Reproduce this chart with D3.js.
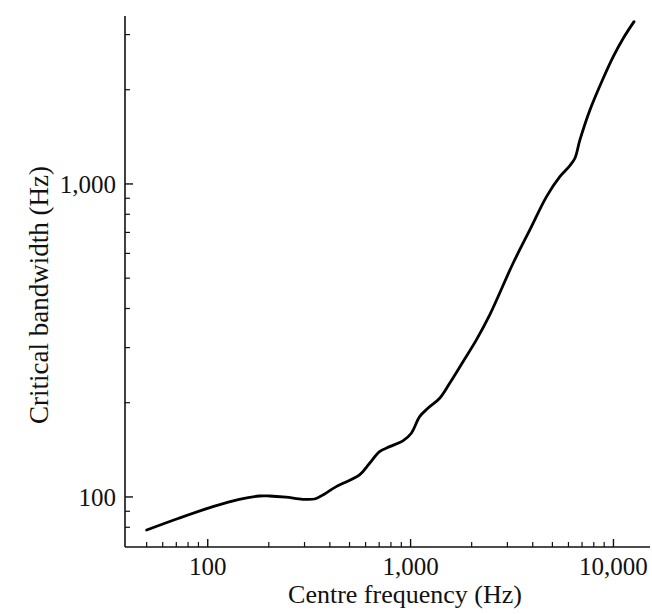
<!DOCTYPE html>
<html>
<head>
<meta charset="utf-8">
<script src="https://cdn.jsdelivr.net/npm/d3@7/dist/d3.min.js"></script>
<style>
  html, body { margin: 0; padding: 0; background: #fff; }
  svg { display: block; }
  text { font-family: "Liberation Serif", "DejaVu Serif", serif; fill: #111; }
</style>
</head>
<body>
<svg id="chart" width="652" height="614"></svg>
<script>
// Centre frequency (Hz)
const freq = [50, 72, 106, 143, 180, 201, 243, 294, 336, 362, 430, 560, 628, 703, 788, 916,
              1008, 1108, 1217, 1391, 1558, 1813, 2110, 2455, 3200, 3870, 4678, 5442, 6098,
              6455, 6834, 7656, 8905, 9977, 11180, 12630];
// Critical bandwidth (Hz)
const bandwidth = [78.4, 85.5, 93.1, 98.3, 100.7, 100.7, 99.8, 98.3, 98.5, 100.7, 107.9, 117.6,
                   128.1, 139.5, 144.8, 151, 159.8, 180.5, 192, 206.7, 230.8, 270.5, 317.5, 381.5,
                   558, 713, 911, 1055, 1144, 1208, 1382, 1723, 2176, 2551, 2921, 3300];

const xMajor = [100, 1000, 10000];
const xMinor = [50, 60, 70, 80, 90, 200, 300, 400, 500, 600, 700, 800, 900,
                2000, 3000, 4000, 5000, 6000, 7000, 8000, 9000];
const yMajor = [100, 1000];
const yMinor = [80, 90, 200, 300, 400, 500, 600, 700, 800, 900, 2000, 3000];

const xTitle = "Centre frequency (Hz)";
const yTitle = "Critical bandwidth (Hz)";

const svg = d3.select("#chart");
const mLeft = 125, mRight = 650, mTop = 16, mBottom = 547;

const x = d3.scaleLog().domain([39.1, 15140]).range([mLeft, mRight]);
const y = d3.scaleLog().domain([69.2, 3440]).range([mBottom, mTop]);
const fmt = d3.format(",");

// X axis
const gx = svg.append("g").attr("transform", `translate(0,${mBottom})`);
gx.append("line").attr("x1", mLeft).attr("x2", mRight).attr("y1", 0).attr("y2", 0)
  .attr("stroke", "#111").attr("stroke-width", 1.6);
gx.selectAll("line.minor").data(xMinor).join("line").attr("class", "minor")
  .attr("x1", d => x(d)).attr("x2", d => x(d)).attr("y1", 0).attr("y2", -5)
  .attr("stroke", "#111").attr("stroke-width", 1.2);
gx.selectAll("line.major").data(xMajor).join("line").attr("class", "major")
  .attr("x1", d => x(d)).attr("x2", d => x(d)).attr("y1", 0).attr("y2", -8)
  .attr("stroke", "#111").attr("stroke-width", 1.4);
gx.selectAll("text.lab").data(xMajor).join("text").attr("class", "lab")
  .attr("x", d => x(d)).attr("y", 28).attr("text-anchor", "middle")
  .attr("font-size", 25).text(d => fmt(d));

// Y axis
const gy = svg.append("g").attr("transform", `translate(${mLeft},0)`);
gy.append("line").attr("x1", 0).attr("x2", 0).attr("y1", mTop).attr("y2", mBottom)
  .attr("stroke", "#111").attr("stroke-width", 1.6);
gy.selectAll("line.minor").data(yMinor).join("line").attr("class", "minor")
  .attr("x1", 0).attr("x2", 5).attr("y1", d => y(d)).attr("y2", d => y(d))
  .attr("stroke", "#111").attr("stroke-width", 1.2);
gy.selectAll("line.major").data(yMajor).join("line").attr("class", "major")
  .attr("x1", 0).attr("x2", 8).attr("y1", d => y(d)).attr("y2", d => y(d))
  .attr("stroke", "#111").attr("stroke-width", 1.4);
gy.selectAll("text.lab").data(yMajor).join("text").attr("class", "lab")
  .attr("x", -9).attr("y", d => y(d)).attr("dy", "0.35em").attr("text-anchor", "end")
  .attr("font-size", 25).text(d => fmt(d));

// Titles
svg.append("text").attr("x", 405).attr("y", 603).attr("text-anchor", "middle")
  .attr("font-size", 26).text(xTitle);
svg.append("text").attr("transform", `translate(48,295) rotate(-90)`)
  .attr("text-anchor", "middle").attr("font-size", 27).text(yTitle);

// Curve
const data = freq.map((f, i) => [f, bandwidth[i]]);
const line = d3.line().x(d => x(d[0])).y(d => y(d[1])).curve(d3.curveCatmullRom.alpha(0.5));
svg.append("path").datum(data).attr("d", line)
  .attr("fill", "none").attr("stroke", "#000").attr("stroke-width", 2.8)
  .attr("stroke-linecap", "round").attr("stroke-linejoin", "round");
</script>
</body>
</html>
